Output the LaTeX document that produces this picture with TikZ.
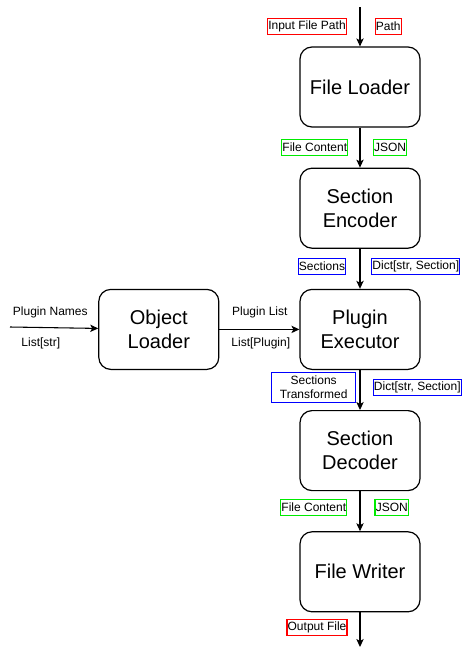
\documentclass[tikz,border=0pt]{standalone}
\usepackage{fontspec}
\setmainfont{Liberation Sans}
\usetikzlibrary{arrows.meta}
\usetikzlibrary{positioning}
\definecolor{tagred}{RGB}{255,0,0}
\definecolor{taggreen}{RGB}{0,235,0}
\definecolor{tagblue}{RGB}{0,0,255}

\begin{document}
\begin{tikzpicture}[x=0.75pt, y=-0.75pt, node distance=30pt,
block/.style={draw, rounded corners=9pt, line width=0.9pt, minimum width=90pt,
minimum height=60pt, align=center, font=\fontsize{15}{18}\selectfont},
tag/.style={draw=#1, line width=1pt, inner xsep=0.5pt, inner ysep=0pt,
minimum height=12pt, align=center, font=\fontsize{9}{11}\selectfont},
txt/.style={inner sep=0pt, font=\fontsize{9}{11}\selectfont},
flow/.style={-{Stealth[length=6pt, width=5.5pt, inset=1.5pt]}, line width=0.8pt}]
\useasboundingbox (0,0) rectangle (473,657);

% main chain
\node[block] (loader) at (360,87) {File Loader};
\node[block, below = of loader] (encoder) {Section\\Encoder};
\node[block, below = of encoder] (executor) {Plugin\\Executor};
\node[block, below = of executor] (decoder) {Section\\Decoder};
\node[block, below = of decoder] (writer) {File Writer};
\node[block, left = 60pt of executor] (objloader) {Object\\Loader};

\coordinate (src) at (360,7);
\coordinate (sink) at (360,647);
\coordinate (names) at (10,327);

\draw[flow] (src) -- (loader);
\foreach \a/\b in {loader/encoder, encoder/executor, executor/decoder, decoder/writer}{
\draw[flow] (\a) -- (\b);}
\draw[flow] (writer) -- (sink);
\draw[flow] (names) -- (objloader);
\draw[flow] (objloader) -- (executor);

% data tags
\node[tag=tagred] (inpath) at (307,26.3) {Input File Path};
\node[tag=tagred] (pathtype) at (388.2,26.3) {Path};
\node[tag=taggreen] (incontent) at (314.8,147.3) {File Content};
\node[tag=taggreen] (injson) at (390,147.3) {JSON};
\node[tag=tagblue] (sections) at (322,266.3) {Sections};
\node[tag=tagblue] (indict) at (415.8,266.3) {Dict[str, Section]};
\node[tag=tagblue, minimum width=63pt, minimum height=22.5pt] (transformed) at (313.7,387.3) {Sections\\Transformed};
\node[tag=tagblue] (outdict) at (417.3,387.3) {Dict[str, Section]};
\node[tag=taggreen] (outcontent) at (313.8,507.3) {File Content};
\node[tag=taggreen] (outjson) at (391.8,507.3) {JSON};
\node[tag=tagred] (outfile) at (317,627.3) {Output File};

% plugin labels
\node[txt] (pnames) at (50.3,312.3) {Plugin Names};
\node[txt] (pnamestype) at (40.8,343.3) {List[str]};
\node[txt] (plist) at (259.8,312.3) {Plugin List};
\node[txt] (plisttype) at (260.8,343.3) {List[Plugin]};
\end{tikzpicture}
\end{document}
